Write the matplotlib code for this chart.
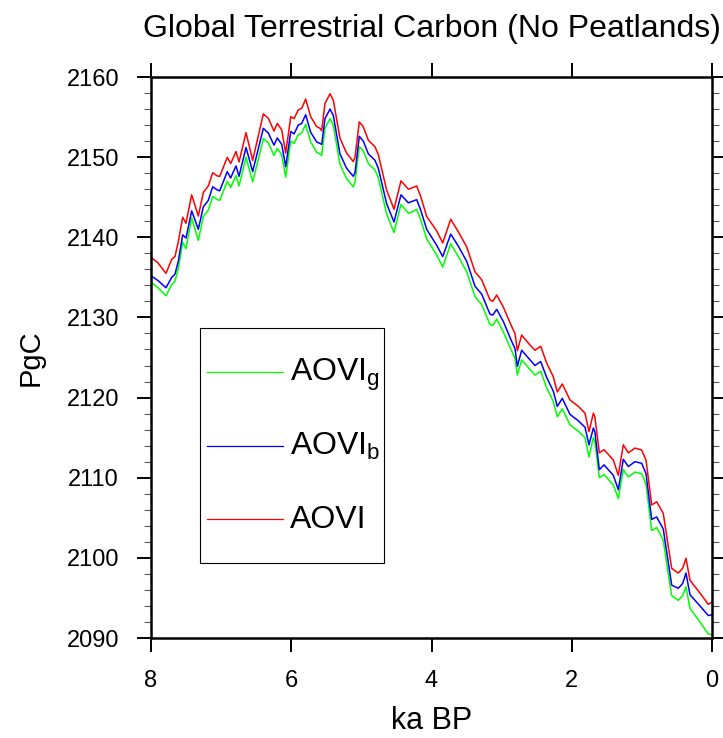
import matplotlib
matplotlib.use('Agg')
import matplotlib.pyplot as plt
from matplotlib.ticker import MultipleLocator
from matplotlib.patches import Rectangle

plt.rcParams['font.family'] = ['Liberation Sans', 'DejaVu Sans']
plt.rcParams['mathtext.fontset'] = 'custom'
plt.rcParams['mathtext.rm'] = 'Liberation Sans'
plt.rcParams['mathtext.it'] = 'Liberation Sans:italic'

# time axis (ka BP) and carbon for the three runs (PgC)
ka = [8.0, 7.9, 7.786, 7.705, 7.658, 7.611, 7.548, 7.501, 7.42, 7.325,
      7.254, 7.183, 7.12, 7.054, 7.02, 6.912, 6.864, 6.788, 6.745, 6.645,
      6.55, 6.398, 6.327, 6.246, 6.199, 6.136, 6.079, 6.007, 5.96, 5.9,
      5.851, 5.794, 5.723, 5.637, 5.59, 5.566, 5.519, 5.447, 5.4, 5.305,
      5.21, 5.115, 5.09, 5.03, 4.973, 4.9, 4.806, 4.758, 4.64, 4.535,
      4.435, 4.33, 4.27, 4.211, 4.154, 4.069, 3.926, 3.84, 3.726, 3.618,
      3.498, 3.38, 3.284, 3.166, 3.127, 3.07, 2.976, 2.856, 2.809, 2.776,
      2.714, 2.595, 2.524, 2.443, 2.357, 2.263, 2.206, 2.135, 2.025, 1.906,
      1.811, 1.754, 1.692, 1.67, 1.607, 1.54, 1.407, 1.336, 1.265, 1.193,
      1.098, 1.003, 0.941, 0.86, 0.789, 0.695, 0.623, 0.575, 0.481, 0.418,
      0.371, 0.314, 0.171, 0.053, 0.0]

aovi = [2137.5, 2136.8, 2135.5, 2137.25, 2137.6, 2139.45, 2142.5, 2141.75, 2145.3, 2142.65,
        2145.6, 2146.4, 2148.05, 2147.65, 2147.6, 2149.98, 2149.2, 2150.7, 2149.4, 2153.05,
        2149.6, 2155.4, 2154.85, 2153.26, 2154.2, 2153.4, 2150.5, 2155.05, 2154.8, 2155.9,
        2156.1, 2157.25, 2155.05, 2153.8, 2153.6, 2153.3, 2156.7, 2157.9, 2157.1, 2152.35,
        2150.5, 2149.45, 2150.0, 2154.4, 2153.8, 2152.1, 2151.3, 2150.3, 2145.9, 2143.5,
        2147.05, 2146.0, 2146.2, 2146.4, 2145.1, 2142.6, 2140.8, 2139.3, 2142.25, 2140.7,
        2138.8, 2135.7, 2134.7, 2132.2, 2132.0, 2132.8, 2131.3, 2128.85, 2128.0, 2125.85,
        2127.8, 2126.55, 2125.9, 2126.4, 2124.3, 2122.6, 2120.7, 2121.7, 2119.7, 2118.9,
        2118.05, 2115.75, 2118.05, 2117.6, 2113.1, 2113.5, 2112.2, 2110.3, 2114.1, 2113.1,
        2113.7, 2113.45, 2112.2, 2106.6, 2107.0, 2105.55, 2101.4, 2098.7, 2098.1, 2098.7,
        2099.95, 2097.2, 2095.6, 2094.2, 2094.5]

aovi_b = [2135.2, 2134.6, 2133.7, 2135.0, 2135.4, 2137.0, 2140.3, 2139.9, 2143.3, 2141.0,
          2143.8, 2144.6, 2146.3, 2145.9, 2145.8, 2148.2, 2147.4, 2148.9, 2147.6, 2151.2,
          2148.2, 2153.6, 2153.0, 2151.5, 2152.4, 2151.6, 2148.8, 2153.2, 2152.9, 2154.0,
          2154.2, 2155.3, 2153.1, 2151.9, 2151.7, 2151.6, 2154.8, 2156.0, 2155.2, 2150.4,
          2148.6, 2147.6, 2148.1, 2152.6, 2152.0, 2150.4, 2149.6, 2148.6, 2144.2, 2141.9,
          2145.3, 2144.3, 2144.5, 2144.7, 2143.4, 2141.0, 2139.0, 2137.6, 2140.4, 2138.9,
          2137.0, 2133.9, 2132.9, 2130.4, 2130.3, 2131.0, 2129.5, 2127.0, 2126.1, 2123.9,
          2125.9, 2124.7, 2124.0, 2124.5, 2122.5, 2120.8, 2118.9, 2119.9, 2117.9, 2117.1,
          2116.3, 2114.1, 2116.2, 2115.7, 2111.0, 2111.6, 2110.3, 2108.5, 2112.3, 2111.4,
          2112.0, 2111.8, 2110.5, 2104.8, 2105.1, 2103.6, 2099.4, 2096.6, 2096.2, 2096.8,
          2098.1, 2095.4, 2094.0, 2092.8, 2092.9]

aovi_g = [2134.4, 2133.7, 2132.7, 2134.1, 2134.5, 2136.1, 2139.4, 2138.6, 2142.4, 2139.6,
          2142.6, 2143.4, 2145.1, 2144.7, 2144.6, 2147.0, 2146.2, 2147.7, 2146.4, 2150.0,
          2146.9, 2152.3, 2151.8, 2150.2, 2151.1, 2150.3, 2147.5, 2152.0, 2151.7, 2152.8,
          2153.0, 2154.1, 2151.9, 2150.6, 2150.4, 2150.2, 2153.6, 2154.8, 2154.0, 2149.1,
          2147.3, 2146.3, 2146.9, 2151.3, 2150.8, 2149.2, 2148.4, 2147.4, 2142.9, 2140.6,
          2144.1, 2143.0, 2143.2, 2143.5, 2142.2, 2139.8, 2137.8, 2136.3, 2139.2, 2137.6,
          2135.7, 2132.6, 2131.6, 2129.1, 2129.0, 2129.8, 2128.2, 2125.8, 2124.9, 2122.8,
          2124.7, 2123.5, 2122.8, 2123.3, 2121.2, 2119.5, 2117.6, 2118.6, 2116.6, 2115.8,
          2115.0, 2112.6, 2115.0, 2114.5, 2110.0, 2110.4, 2109.1, 2107.4, 2111.0, 2110.1,
          2110.7, 2110.5, 2109.2, 2103.4, 2103.8, 2102.2, 2098.0, 2095.3, 2094.7, 2095.3,
          2096.4, 2093.7, 2092.0, 2090.5, 2090.4]

series = [(aovi_g, '#00ff00', r'AOVI$_{\rm g}$'),
          (aovi_b, '#0000ff', r'AOVI$_{\rm b}$'),
          (aovi, '#ff0000', 'AOVI')]

fig = plt.figure(figsize=(7.23, 7.38), dpi=100)
ax = fig.add_axes([151/723, 1-638/738, 561/723, 561/738])

for vals, col, lab in series:
    ax.plot(ka, vals, color=col, lw=1.1)

ax.set_xlim(8, 0)
ax.set_ylim(2090, 2160)
ax.set_xticks([8, 6, 4, 2, 0])
ax.set_yticks(range(2090, 2161, 10))
ax.yaxis.set_minor_locator(MultipleLocator(2))

for s in ax.spines.values():
    s.set_linewidth(1.8)
ax.tick_params(which='both', direction='out', top=True, right=True)
ax.tick_params(which='major', length=10, width=1.4, labelsize=17, pad=13)
ax.tick_params(which='minor', length=5, width=0.8, color='#555555')

ax.set_xlabel('ka BP', fontsize=22, labelpad=10)
ax.set_ylabel('PgC', fontsize=21, labelpad=16)
fig.text(431.5/723, 1-37/738, 'Global Terrestrial Carbon (No Peatlands)',
         ha='center', va='baseline', fontsize=23)

# legend box drawn by hand (NCL style)
ax.add_patch(Rectangle((0.0873, 0.1337), 0.328, 0.4189, transform=ax.transAxes,
                       fill=False, edgecolor='black', lw=0.8, zorder=5))
rows = [0.4747, 0.3428, 0.2121]
for (vals, col, lab), yy in zip(series, rows):
    ax.plot([0.0998, 0.2353], [yy, yy], color=col, lw=0.9, transform=ax.transAxes)
    ax.text(0.2478, yy - 0.016, lab, transform=ax.transAxes, fontsize=23,
            va='baseline', ha='left')

fig.savefig('out.png', dpi=100)
